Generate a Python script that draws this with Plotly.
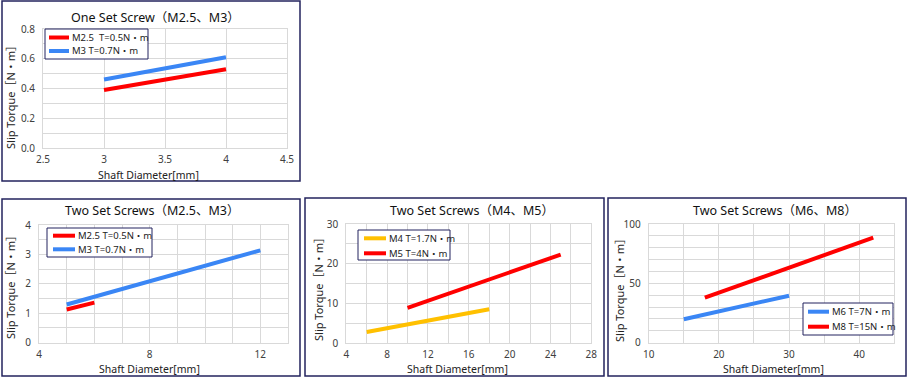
import plotly.graph_objects as go

# ---------------- data ----------------
p1_x = [3, 4]
p1_m25 = [0.39, 0.53]
p1_m3 = [0.46, 0.61]

p2_m25_x = [5, 6]
p2_m25_y = [1.13, 1.36]
p2_m3_x = [5, 12]
p2_m3_y = [1.30, 3.14]

p3_m4_x = [6, 18]
p3_m4_y = [2.85, 8.55]
p3_m5_x = [10, 25]
p3_m5_y = [8.9, 22.3]

p4_m6_x = [15, 30]
p4_m6_y = [19.7, 39.6]
p4_m8_x = [18, 42]
p4_m8_y = [37.9, 88.5]

titles = ["One Set Screw（M2.5、M3）", "Two Set Screws（M2.5、M3）",
          "Two Set Screws（M4、M5）", "Two Set Screws（M6、M8）"]
series_names = [["M2.5  T=0.5N・m", "M3 T=0.7N・m"],
                ["M2.5 T=0.5N・m", "M3 T=0.7N・m"],
                ["M4 T=1.7N・m", "M5 T=4N・m"],
                ["M6 T=7N・m", "M8 T=15N・m"]]
x_title = "Shaft Diameter[mm]"
y_title = "Slip Torque［N・m］"

# ---------------- styling ----------------
W, H = 910, 380
FONT = "Noto Sans, Noto Sans CJK JP, sans-serif"
RED = "#ff0000"
BLUE = "#3a86f5"
YELLOW = "#ffc000"
NAVY = "#23235e"
GRID = "#d9d9d9"
LW = 4
series_colors = [[RED, BLUE], [RED, BLUE], [YELLOW, RED], [BLUE, RED]]


def px(x):
    return x / W


def py(y):
    return 1 - y / H


fig = go.Figure()

def add(x, y, name, color, xa, ya):
    fig.add_trace(go.Scatter(x=x, y=y, name=name, mode="lines",
                             line=dict(color=color, width=LW),
                             xaxis=xa, yaxis=ya, showlegend=False,
                             hoverinfo="x+y+name"))

add(p1_x, p1_m25, series_names[0][0], RED, "x", "y")
add(p1_x, p1_m3, series_names[0][1], BLUE, "x", "y")
add(p2_m25_x, p2_m25_y, series_names[1][0], RED, "x2", "y2")
add(p2_m3_x, p2_m3_y, series_names[1][1], BLUE, "x2", "y2")
add(p3_m4_x, p3_m4_y, series_names[2][0], YELLOW, "x3", "y3")
add(p3_m5_x, p3_m5_y, series_names[2][1], RED, "x3", "y3")
add(p4_m6_x, p4_m6_y, series_names[3][0], BLUE, "x4", "y4")
add(p4_m8_x, p4_m8_y, series_names[3][1], RED, "x4", "y4")

# plot areas in pixels: (left, right, top, bottom)
areas = [(43, 287, 29, 148), (39, 288, 225, 342.7),
         (346.3, 591.3, 224, 343.3), (648.7, 894.3, 224, 342.7)]
xranges = [[2.5, 4.5], [4, 13], [4, 28], [10, 45]]
yranges = [[0, 0.8], [0, 4], [0, 30], [0, 100]]
xdt = [(0.5, 2.5, None), (4, 4, 1), (4, 4, 2), (10, 10, 5)]
ydt = [(0.2, 0.1, ".1f"), (1, 0.5, None), (10, 5, None), (50, 10, None)]

tickfont = dict(family=FONT, size=10, color="#404040")
layout = {}
for i in range(4):
    sfx = "" if i == 0 else str(i + 1)
    l, r, t, b = areas[i]
    dt, t0, mdt = xdt[i]
    xa = dict(domain=[px(l), px(r)], range=xranges[i], anchor="y" + sfx,
              dtick=dt, tick0=t0, showgrid=True, gridcolor=GRID, gridwidth=1,
              zeroline=False, showline=True, mirror=True, linecolor=GRID,
              linewidth=1, tickfont=tickfont, ticks="", fixedrange=True,
              ticklabelstandoff=2)
    if mdt:
        xa["minor"] = dict(dtick=mdt, tick0=t0, showgrid=True, gridcolor=GRID,
                           gridwidth=1)
    ydtk, ymdt, yfmt = ydt[i]
    ya = dict(domain=[py(b), py(t)], range=yranges[i], anchor="x" + sfx,
              dtick=ydtk, tick0=0, showgrid=True, gridcolor=GRID, gridwidth=1,
              zeroline=False, showline=True, mirror=True, linecolor=GRID,
              linewidth=1, tickfont=tickfont, ticks="", fixedrange=True,
              ticklabelstandoff=5,
              minor=dict(dtick=ymdt, tick0=0, showgrid=True, gridcolor=GRID,
                         gridwidth=1))
    if yfmt:
        ya["tickformat"] = yfmt
    layout["xaxis" + sfx] = xa
    layout["yaxis" + sfx] = ya

fig.update_layout(**layout)

# panel borders
borders = [(2, 300, 1, 181), (2, 300, 199, 376), (305, 604, 198, 376),
           (608, 906, 198, 376)]
for (x0, x1, y0, y1) in borders:
    fig.add_shape(type="rect", xref="paper", yref="paper",
                  x0=px(x0), x1=px(x1), y0=py(y0), y1=py(y1),
                  line=dict(color=NAVY, width=1.5), fillcolor="rgba(0,0,0,0)")

# legends: box (x0, x1, y0, y1), sample line x0, x1, item rows y
legend_boxes = [(45, 148, 29, 59), (47, 152, 228, 257),
                (358, 450, 230, 260), (803, 893, 303, 335)]
legend_samples = [(49, 69), (53, 75), (364, 386), (808, 829)]
legend_rows = [(37.5, 51), (235.7, 249.3), (238.3, 253.3), (311.7, 326.7)]
for i in range(4):
    bx0, bx1, by0, by1 = legend_boxes[i]
    fig.add_shape(type="rect", xref="paper", yref="paper",
                  x0=px(bx0), x1=px(bx1), y0=py(by0), y1=py(by1),
                  line=dict(color=NAVY, width=1), fillcolor="white", layer="above")
    sx0, sx1 = legend_samples[i]
    for j in range(2):
        ry = legend_rows[i][j]
        fig.add_shape(type="line", xref="paper", yref="paper",
                      x0=px(sx0), x1=px(sx1), y0=py(ry), y1=py(ry),
                      line=dict(color=series_colors[i][j], width=LW), layer="above")
        fig.add_annotation(text=series_names[i][j], x=px(sx1 + 1), y=py(ry),
                           xref="paper", yref="paper", showarrow=False,
                           xanchor="left", yanchor="middle",
                           font=dict(family=FONT, size=9.5, color="#222222"))

# titles
title_pos = [(155, 17), (152, 211), (472, 211), (775, 211)]
for txt, (tx, ty) in zip(titles, title_pos):
    fig.add_annotation(text=txt, x=px(tx), y=py(ty), xref="paper", yref="paper",
                       showarrow=False, xanchor="center", yanchor="middle",
                       font=dict(family=FONT, size=12.5, color="#111111"))

# axis titles
xt_pos = [(148, 175), (149, 369), (457, 369), (773, 369)]
for (tx, ty) in xt_pos:
    fig.add_annotation(text=x_title, x=px(tx), y=py(ty), xref="paper", yref="paper",
                       showarrow=False, xanchor="center", yanchor="middle",
                       font=dict(family=FONT, size=10.5, color="#222222"))
yt_pos = [(10, 95), (10, 285), (318, 287), (619, 288)]
for (tx, ty) in yt_pos:
    fig.add_annotation(text=y_title, x=px(tx), y=py(ty), xref="paper", yref="paper",
                       showarrow=False, xanchor="center", yanchor="middle",
                       textangle=-90,
                       font=dict(family=FONT, size=11, color="#222222"))

fig.update_layout(width=W, height=H,
                  margin=dict(l=0, r=0, t=0, b=0, pad=0, autoexpand=False),
                  paper_bgcolor="white", plot_bgcolor="white", showlegend=False)

fig.write_html(
    "out.html",
    config={"displayModeBar": False},
    post_script="document.body.style.margin='0';document.body.style.overflow='hidden';",
)
